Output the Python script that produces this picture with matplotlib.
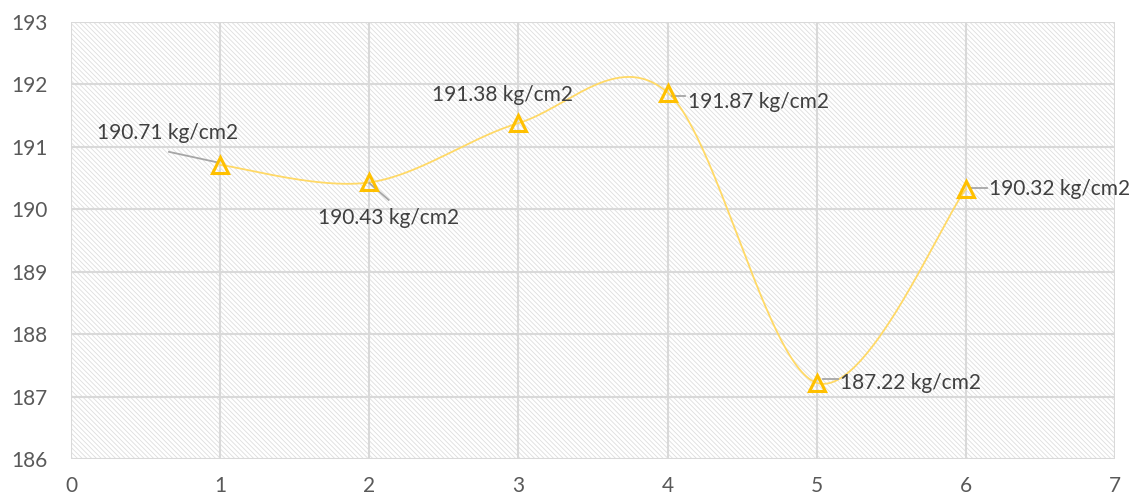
import numpy as np
import matplotlib
matplotlib.use("Agg")
import matplotlib.pyplot as plt
from matplotlib.patches import Rectangle

x_vals = [1, 2, 3, 4, 5, 6]
y_vals = [190.71, 190.43, 191.38, 191.87, 187.22, 190.32]
labels = ["190.71 kg/cm2", "190.43 kg/cm2", "191.38 kg/cm2",
          "191.87 kg/cm2", "187.22 kg/cm2", "190.32 kg/cm2"]
x_ticks = [0, 1, 2, 3, 4, 5, 6, 7]
y_ticks = [186, 187, 188, 189, 190, 191, 192, 193]

# label offsets in data units (text left-center relative to point)
label_offsets = [(-0.826, 0.51), (-0.344, -0.57), (-0.58, 0.45), (0.137, -0.15), (0.156, 0.0), (0.155, 0.0)]

plt.rcParams['font.family'] = ['Lato', 'DejaVu Sans']
plt.rcParams['hatch.linewidth'] = 0.6

fig = plt.figure(figsize=(11.37, 4.99), dpi=100)
ax = fig.add_axes([71/1137, 1-459/499, (1115-71)/1137, (459-22)/499])

# hatched background
bg = Rectangle((0, 0), 1, 1, transform=ax.transAxes, facecolor='white',
               edgecolor='#DEDEDE', lw=0, hatch='\\' * 7, zorder=0.1)
ax.add_patch(bg)
ax.patch.set_visible(False)

# Catmull-Rom style smoothing (Excel smoothed line)
def smooth(xs, ys, n=60):
    P = np.column_stack([xs, ys]).astype(float)
    out = []
    for i in range(len(P) - 1):
        p0 = P[i - 1] if i > 0 else P[i]
        p1 = P[i]
        p2 = P[i + 1]
        p3 = P[i + 2] if i + 2 < len(P) else P[i + 1]
        c1 = p1 + (p2 - p0) / 6
        c2 = p2 - (p3 - p1) / 6
        t = np.linspace(0, 1, n)[:, None]
        seg = (1-t)**3*p1 + 3*(1-t)**2*t*c1 + 3*(1-t)*t**2*c2 + t**3*p2
        out.append(seg if i == 0 else seg[1:])
    return np.vstack(out)

curve = smooth(x_vals, y_vals)
ax.plot(curve[:, 0], curve[:, 1], color='#FFD966', lw=1.3, zorder=3)
ax.plot(x_vals, y_vals, linestyle='none', marker='^', markersize=11,
        markerfacecolor='none', markeredgecolor='#FFC000', markeredgewidth=2.2, zorder=4)

for xv, yv, lab, (dx, dy) in zip(x_vals, y_vals, labels, label_offsets):
    ax.annotate(lab, xy=(xv, yv), xytext=(xv + dx, yv + dy), ha='left', va='center',
                fontsize=15, color='#404040', zorder=5)

# leader lines
ax.plot([0.657, 0.985], [190.92, 190.75], color='#A6A6A6', lw=1.3, zorder=3.5)
ax.plot([2.0, 2.13], [190.42, 190.15], color='#A6A6A6', lw=1.3, zorder=3.5)
ax.plot([4.03, 4.12], [191.82, 191.82], color='#A6A6A6', lw=1.3, zorder=3.5)
ax.plot([5.04, 5.14], [187.28, 187.28], color='#A6A6A6', lw=1.3, zorder=3.5)
ax.plot([6.03, 6.14], [190.34, 190.34], color='#A6A6A6', lw=1.3, zorder=3.5)

ax.set_xlim(0, 7)
ax.set_ylim(186, 193)
ax.set_xticks(x_ticks)
ax.set_yticks(y_ticks)
ax.grid(True, color='#D9D9D9', lw=1.5, zorder=0.5)
ax.set_axisbelow(True)
for s in ax.spines.values():
    s.set_visible(False)
ax.tick_params(length=0, labelsize=15, colors='#595959')
ax.tick_params(axis='x', pad=12)
ax.tick_params(axis='y', pad=17)

fig.savefig('out.png', dpi=100)
